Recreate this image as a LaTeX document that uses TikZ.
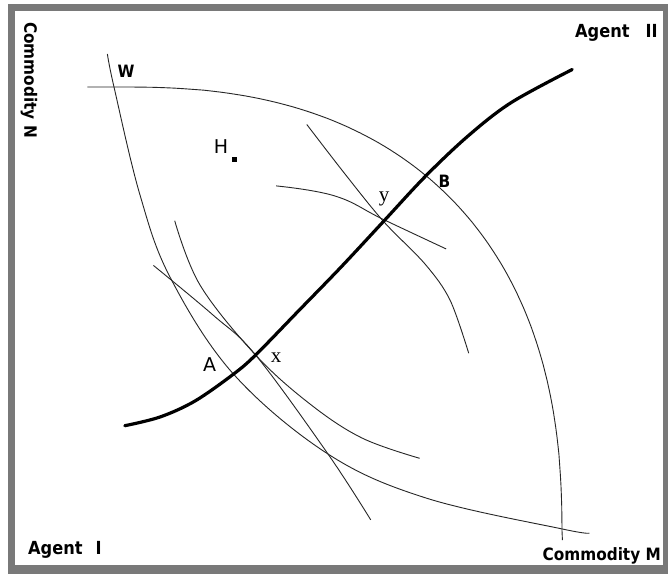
\documentclass[tikz,border=0pt]{standalone}
\usepackage{fontspec}
\setmainfont{DejaVu Sans}
\newfontfamily\cbold{DejaVu Sans Condensed Bold}
\newfontfamily\tms{Liberation Serif}
\begin{document}
\begin{tikzpicture}[x=1pt,y=-1pt,
  thin curve/.style={line width=0.9pt, black!85},
  contract/.style={line width=3.2pt, black, line cap=round},
  lbl/.style={inner sep=0pt, font=\cbold\fontsize{17}{17}\selectfont},
  biglbl/.style={inner sep=0pt, font=\fontsize{19}{19}\selectfont},
  serlbl/.style={inner sep=0pt, font=\tms\fontsize{21}{21}\selectfont}]
\useasboundingbox (0,0) rectangle (668,574);
\fill[white] (0,0) rectangle (668,574);
\fill[gray!95!black] (8,4) rectangle (668,574);
\fill[white] (15,11) rectangle (663,565);
% named points
\coordinate (W) at (114,87);
\coordinate (A) at (233.5,374.1);
\coordinate (X) at (255.6,355);
\coordinate (Y) at (383.5,221.4);
\coordinate (B) at (426,175.7);
\coordinate (Wl) at (87.3,87);
\coordinate (Mb) at (562.4,540);
% agent I curve through W
\draw[thin curve] plot[smooth, tension=0.6] coordinates {(107.4,54) (114,87) (140,195) (170.5,278) (233.5,374.1) (328,454) (426,498) (562.4,529) (589.3,533)};
% agent II curve through W (superellipse arc)
\draw[thin curve] (Wl) -- plot[domain=89.5:0.5, samples=90] ({120+442*pow(cos(\x),0.826)}, {540-453*pow(sin(\x),0.826)}) -- (Mb);
% agent I curve through x
\draw[thin curve] plot[smooth, tension=0.6] coordinates {(174.7,220.7) (200,285) (255.6,355) (310,404) (362,438) (419.7,458.3)};
% agent II curve through x
\draw[thin curve] plot[smooth, tension=0.6] coordinates {(153.4,265.4) (213,315) (255.6,355) (328,454) (370.7,519.8)};
% agent II curve through y
\draw[thin curve] plot[smooth, tension=0.55] coordinates {(306.8,124.5) (345,174) (383.5,221.4) (425,264) (450,300) (468.7,353.2)};
% agent I curve through y
\draw[thin curve] plot[smooth, tension=0.7] coordinates {(276.1,185.9) (335,196) (383.5,219.5) (446.1,248.9)};
% contract curve
\draw[contract] plot[smooth, tension=0.55] coordinates {(124.8,425.7) (160,417) (195,401) (233.5,374.1) (255.6,355) (298.3,311.1) (340.9,267.2) (383.5,221.4) (426,175.7) (468.7,135.4) (511.3,102.5) (572.2,69.5)};
% point H
\fill (231.7,156.7) rectangle (236.7,161.7);
% labels
\node[lbl] (lW) at (126,71) {W};
\node[biglbl] (lH) at (221,147) {H};
\node[lbl] (lB) at (444.5,181.5) {B};
\node[biglbl] (lA) at (209.5,365) {A};
\node[serlbl, anchor=base] (lx) at (276,362) {x};
\node[serlbl, anchor=base] (ly) at (384,201) {y};
\node[lbl, anchor=base west, font=\cbold\fontsize{18}{18}\selectfont] (a2) at (575,37) {Agent\hspace{16pt}II};
\node[lbl, anchor=base west, font=\cbold\fontsize{18}{18}\selectfont] (a1) at (28,554) {Agent\hspace{13pt}I};
\node[lbl, anchor=base east] (cm) at (661,560) {Commodity M};
\node[lbl, rotate=-90] (cn) at (29,80) {Commodity N};
\end{tikzpicture}
\end{document}
